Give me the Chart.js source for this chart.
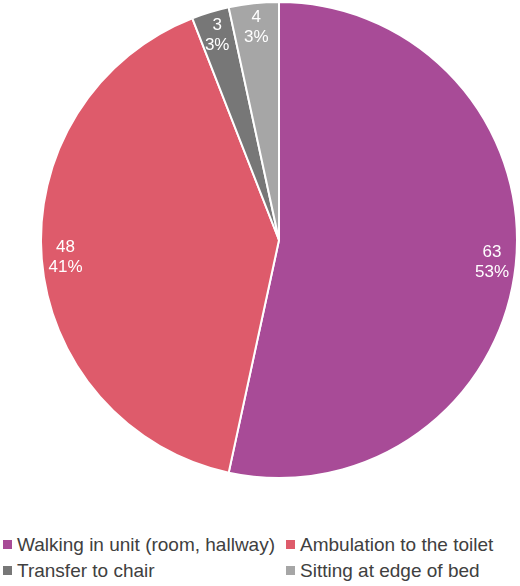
<!DOCTYPE html>
<html>
<head>
<meta charset="utf-8">
<script src="https://cdn.jsdelivr.net/npm/chart.js@4/dist/chart.umd.min.js"></script>
<style>
  html, body { margin: 0; padding: 0; background: #fff; }
  #wrap { position: relative; width: 520px; height: 586px; }
  #chart-box { position: absolute; left: 0; top: 0; width: 520px; height: 490px; }
  .legend { position: absolute; font-family: "Liberation Sans", Arial, sans-serif; font-size: 19px; line-height: 22px; color: #404040; white-space: nowrap; }
  .legend span.box { display: inline-block; width: 9px; height: 9px; margin-right: 5px; vertical-align: 2px; }
</style>
</head>
<body>
<div id="wrap">
  <div id="chart-box"><canvas id="chart"></canvas></div>
  <div id="legend"></div>
</div>
<script>
const categories = ['Walking in unit (room, hallway)', 'Ambulation to the toilet', 'Transfer to chair', 'Sitting at edge of bed'];
const counts = [63, 48, 3, 4];
const colors = ['#a84b97', '#de5b6b', '#777777', '#a6a6a6'];
// legend grid: [column, row]
const legendSpots = [[0, 0], [1, 0], [0, 1], [1, 1]];

const total = counts.reduce((a, b) => a + b, 0);

// labels inside the slices: "count" over "percent"
const sliceLabels = {
    id: 'sliceLabels',
    afterDatasetsDraw(chart) {
        const c = chart.ctx;
        const meta = chart.getDatasetMeta(0);
        c.save();
        c.fillStyle = '#ffffff';
        c.font = '17px "Liberation Sans", Arial, sans-serif';
        c.textAlign = 'center';
        c.textBaseline = 'middle';
        meta.data.forEach((arc, i) => {
            const mid = (arc.startAngle + arc.endAngle) / 2;
            const r = arc.outerRadius * 0.9;
            const x = arc.x + Math.cos(mid) * r;
            const y = arc.y + Math.sin(mid) * r;
            c.fillText(String(counts[i]), x, y - 10);
            c.fillText(Math.round(counts[i] / total * 100) + '%', x, y + 10);
        });
        c.restore();
    }
};

new Chart(document.getElementById('chart'), {
    type: 'pie',
    data: {
        labels: categories,
        datasets: [{
            data: counts,
            backgroundColor: colors,
            borderColor: '#ffffff',
            borderWidth: 2
        }]
    },
    options: {
        responsive: true,
        maintainAspectRatio: false,
        animation: false,
        layout: { padding: { left: 40, right: 2, top: 1, bottom: 11 } },
        plugins: {
            legend: { display: false },
            tooltip: { enabled: false }
        }
    },
    plugins: [sliceLabels]
});

const legendEl = document.getElementById('legend');
categories.forEach((name, i) => {
    const item = document.createElement('div');
    item.className = 'legend';
    item.style.left = (legendSpots[i][0] ? 286 : 3) + 'px';
    item.style.top = (534 + legendSpots[i][1] * 26) + 'px';
    item.innerHTML = '<span class="box" style="background:' + colors[i] + '"></span>' + name;
    legendEl.appendChild(item);
});
</script>
</body>
</html>
